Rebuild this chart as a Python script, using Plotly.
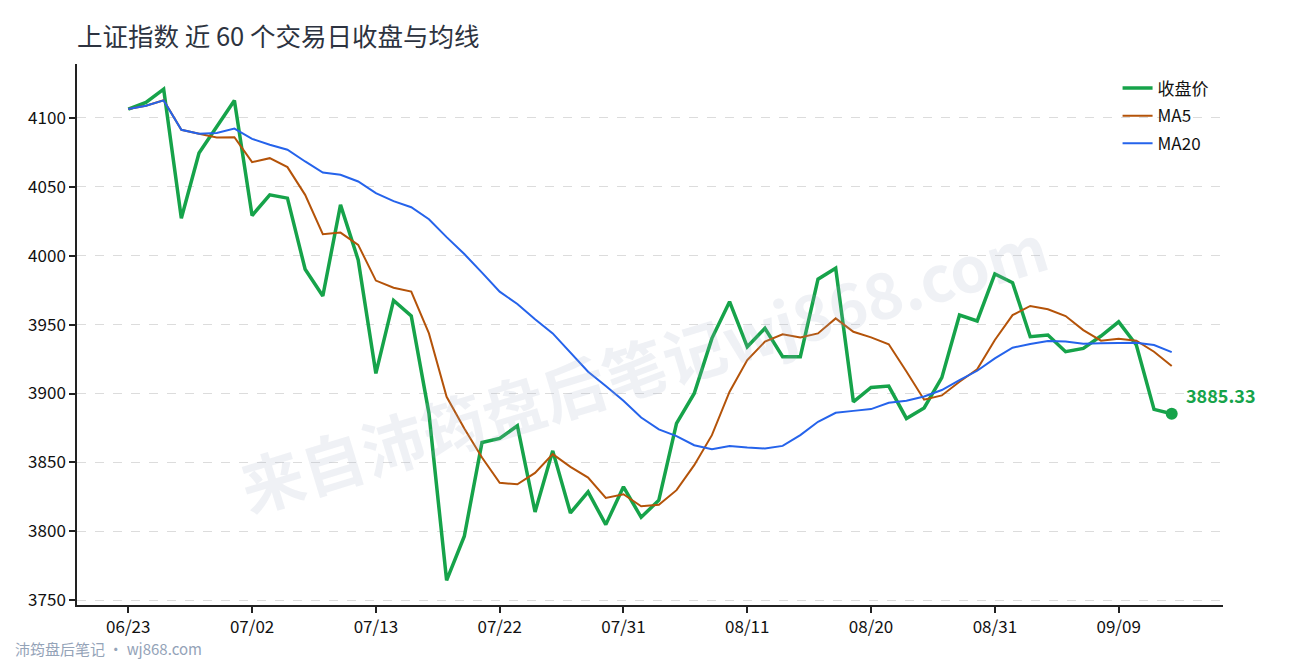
# =============================================================================
# 上证指数 近 60 个交易日收盘与均线
# Close price with MA5 / MA20 lines, category x-axis, watermark
# =============================================================================

import plotly.graph_objects as go

# -----------------------------------------------------------------------------
# Data
# -----------------------------------------------------------------------------
dates = [
    '06/23', '06/24', '06/25', '06/26', '06/27', '06/30', '07/01', '07/02',
    '07/03', '07/04', '07/07', '07/08', '07/09', '07/10', '07/13',
    '07/14', '07/15', '07/16', '07/17', '07/18', '07/21', '07/22',
    '07/23', '07/24', '07/25', '07/28', '07/29', '07/30', '07/31',
    '08/01', '08/04', '08/05', '08/06', '08/07', '08/08', '08/11',
    '08/12', '08/13', '08/14', '08/15', '08/18', '08/19', '08/20',
    '08/21', '08/22', '08/25', '08/26', '08/27', '08/28', '08/31',
    '09/01', '09/02', '09/03', '09/04', '09/05', '09/08', '09/09',
    '09/10', '09/11', '09/12',
]

close = [
    4106.3, 4111.1, 4120.8, 4027.1, 4074.4, 4093.7, 4112.6, 4029.1,
    4044.1, 4041.7, 3990.1, 3970.7, 4036.8, 3996.9, 3914.6,
    3967.5, 3956.2, 3885.6, 3764.5, 3796.5, 3864.5, 3867.4,
    3876.6, 3814.1, 3858.4, 3813.4, 3828.6, 3804.9, 3832.3,
    3810.2, 3822.6, 3878.3, 3900.0, 3940.0, 3966.6, 3933.9,
    3947.3, 3926.7, 3926.7, 3982.9, 3990.9, 3894.0, 3904.4,
    3905.4, 3881.9, 3889.5, 3911.5, 3956.9, 3952.6, 3986.7,
    3980.4, 3941.2, 3942.4, 3930.3, 3932.7, 3941.7, 3952.0,
    3935.2, 3888.5, 3885.33,
]

ma5 = [
    4106.3, 4108.7, 4112.7, 4091.3, 4088.4, 4085.7, 4085.9, 4067.8,
    4070.7, 4064.2, 4044.1, 4015.5, 4016.7, 4007.8, 3981.9,
    3976.7, 3973.9, 3943.6, 3897.6, 3874.6, 3853.6, 3835.2,
    3834.2, 3842.4, 3856.0, 3846.8, 3839.0, 3824.3, 3826.9,
    3818.2, 3819.3, 3829.9, 3848.0, 3869.8, 3901.3, 3924.3,
    3937.6, 3942.9, 3940.7, 3943.6, 3954.5, 3944.8, 3940.7,
    3935.7, 3916.0, 3895.5, 3898.6, 3908.5, 3917.5, 3938.8,
    3956.9, 3963.5, 3961.1, 3956.2, 3946.0, 3938.3, 3939.7,
    3938.3, 3930.3, 3919.9,
]

ma20 = [
    4106.3, 4108.7, 4112.6, 4091.3, 4088.4, 4088.9, 4092.2, 4084.7,
    4080.4, 4076.8, 4068.3, 4060.3, 4058.6, 4053.8, 4045.3,
    4039.5, 4035.1, 4026.4, 4013.4, 4001.2, 3987.7, 3973.9,
    3964.9, 3953.8, 3943.6, 3929.6, 3915.8, 3905.4, 3894.7,
    3882.6, 3874.0, 3869.1, 3862.5, 3859.6, 3862.0, 3860.9,
    3860.1, 3862.0, 3869.8, 3879.5, 3886.0, 3887.4, 3888.7,
    3893.3, 3894.7, 3897.8, 3902.5, 3909.7, 3916.5, 3925.5,
    3933.2, 3935.9, 3938.1, 3937.8, 3936.1, 3936.4, 3936.6,
    3936.8, 3935.2, 3930.0,
]

tick_dates = ['06/23', '07/02', '07/13', '07/22', '07/31', '08/11', '08/20', '08/31', '09/09']
y_ticks = [3750, 3800, 3850, 3900, 3950, 4000, 4050, 4100]

# -----------------------------------------------------------------------------
# Styles
# -----------------------------------------------------------------------------
green = '#16a34a'
orange = '#b45309'
blue = '#2563eb'
axis_color = '#222222'
font_family = 'Noto Sans CJK SC, Noto Sans, sans-serif'

# -----------------------------------------------------------------------------
# Figure
# -----------------------------------------------------------------------------
fig = go.Figure()

# separate legend groups so tracegroupgap spaces the legend rows
fig.add_trace(go.Scatter(
    x=dates, y=close, mode='lines', name='收盘价', legendgroup='close',
    line=dict(color=green, width=3.5)
))
fig.add_trace(go.Scatter(
    x=dates, y=ma5, mode='lines', name='MA5', legendgroup='ma5',
    line=dict(color=orange, width=2)
))
fig.add_trace(go.Scatter(
    x=dates, y=ma20, mode='lines', name='MA20', legendgroup='ma20',
    line=dict(color=blue, width=2)
))

# last close marker
fig.add_trace(go.Scatter(
    x=[dates[-1]], y=[close[-1]], mode='markers',
    marker=dict(color=green, size=12),
    showlegend=False, hoverinfo='skip'
))

# last close label
fig.add_annotation(
    x=dates[-1], y=close[-1], text=f'<b>{close[-1]:.2f}</b>',
    showarrow=False, xanchor='left', yanchor='middle',
    xshift=12, yshift=19,
    font=dict(size=18, color=green, family=font_family)
)

# watermark
fig.add_annotation(
    x=0.494, y=0.757, xref='paper', yref='paper',
    text='<b>来自沛筠盘后笔记wj868.com</b>',
    showarrow=False, textangle=-17,
    font=dict(size=63, color='rgba(160,170,195,0.17)', family=font_family)
)

# footer
fig.add_annotation(
    x=(13 - 77) / 1146, y=-43 / 541, xref='paper', yref='paper',
    text='沛筠盘后笔记 · wj868.com',
    showarrow=False, xanchor='left', yanchor='middle',
    font=dict(size=15, color='#94a3b8', family=font_family)
)

# -----------------------------------------------------------------------------
# Layout
# -----------------------------------------------------------------------------
fig.update_layout(
    width=1290, height=660,
    paper_bgcolor='white', plot_bgcolor='white',
    font=dict(family=font_family, size=17, color='#111111'),
    title=dict(
        text='上证指数 近 60 个交易日收盘与均线',
        x=77 / 1290, xanchor='left', y=1 - 37 / 660, yanchor='middle',
        font=dict(size=25.5, color='#2d3340')
    ),
    margin=dict(l=77, r=67, t=64, b=55),
    legend=dict(
        x=0.908, y=0.988, xanchor='left', yanchor='top',
        bgcolor='rgba(0,0,0,0)', font=dict(size=17, color='#111111'),
        tracegroupgap=2.5
    ),
    hovermode='x unified'
)

fig.update_xaxes(
    type='category', range=[-2.9, 61.9],
    tickmode='array', tickvals=tick_dates, ticktext=tick_dates,
    showline=True, linecolor=axis_color, linewidth=1.5,
    ticks='outside', ticklen=6, tickwidth=1.5, tickcolor=axis_color,
    showgrid=False, zeroline=False,
    tickfont=dict(size=17, color='#111111')
)

fig.update_yaxes(
    range=[3746.6, 4139], tickvals=y_ticks,
    showline=True, linecolor=axis_color, linewidth=1.5,
    ticks='outside', ticklen=6, tickwidth=1.5, tickcolor=axis_color,
    showgrid=True, gridcolor='#dcdcdc', griddash='dash', gridwidth=1,
    zeroline=False,
    tickfont=dict(size=17, color='#111111')
)

# body margin off so the figure sits at the window's top-left corner
fig.write_html(
    'out.html',
    config={'displayModeBar': False},
    post_script="document.body.style.margin='0';"
)
